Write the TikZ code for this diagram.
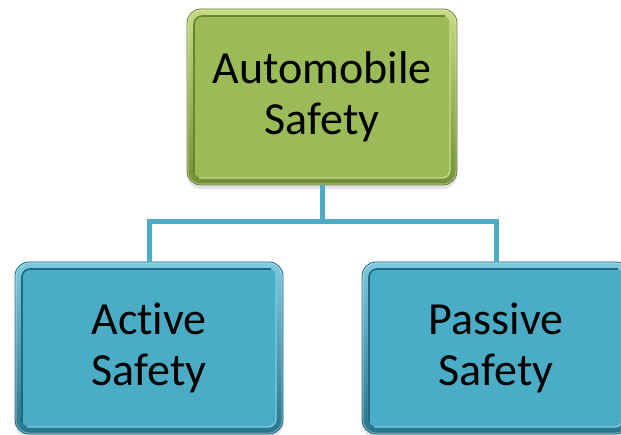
\documentclass[tikz,border=0pt]{standalone}
\usepackage{fontspec}
\setmainfont[Ligatures=NoCommon]{Carlito}
\usetikzlibrary{shadows}
\definecolor{glight}{RGB}{198,218,130}
\definecolor{gmain}{RGB}{155,187,89}
\definecolor{gdark}{RGB}{104,132,48}
\definecolor{blight}{RGB}{125,202,224}
\definecolor{bmain}{RGB}{75,172,198}
\definecolor{bdark}{RGB}{30,104,128}
\tikzset{
  bevelbox/.style n args={3}{
    rounded corners=14pt, minimum width=268pt, minimum height=172pt,
    top color=#1, bottom color=#3!80!#2, draw=#3, line width=0.8pt, inner sep=0pt,
    drop shadow={shadow xshift=0pt, shadow yshift=-4pt, opacity=.22},
    path picture={
      % raised face of the bevel
      \fill[rounded corners=8pt, #2]
        ([shift={(7pt,-7pt)}]path picture bounding box.north west) rectangle
        ([shift={(-7pt,7pt)}]path picture bounding box.south east);
      % inner shadow along the upper and left edges
      \draw[#3, line width=1.6pt, rounded corners=8pt]
        ([shift={(7pt,12pt)}]path picture bounding box.south west) --
        ([shift={(7pt,-7pt)}]path picture bounding box.north west) --
        ([shift={(-12pt,-7pt)}]path picture bounding box.north east);
      % inner highlight along the lower and right edges
      \draw[#1, line width=1.4pt, rounded corners=8pt]
        ([shift={(12pt,7pt)}]path picture bounding box.south west) --
        ([shift={(-7pt,7pt)}]path picture bounding box.south east) --
        ([shift={(-7pt,-12pt)}]path picture bounding box.north east);
      % outer rim highlight
      \draw[white, opacity=.35, line width=3pt, rounded corners=14pt]
        (path picture bounding box.south west) rectangle
        (path picture bounding box.north east);
    },
    font=\fontsize{46}{51}\selectfont, align=center, text=black
  },
  greenbox/.style={bevelbox={glight}{gmain}{gdark}},
  bluebox/.style={bevelbox={blight}{bmain}{bdark}},
  link/.style={draw=bmain, line width=5pt}
}
\begin{document}
\begin{tikzpicture}[x=1pt,y=-1pt]
  \useasboundingbox[fill=white] (0,0) rectangle (621,435);
  % tree skeleton
  \coordinate (bus) at (322,222);
  \node[greenbox, minimum width=270pt, minimum height=176pt] (root) at (322,97) {Automobile\\Safety};
  \node[bluebox] (active) at (149,348) {Active\\Safety};
  \node[bluebox] (passive) at (496,348) {Passive\\Safety};
  % connectors
  \draw[link] (root.south) -- (root.south |- bus);
  \draw[link] (active.north) |- (root.south |- bus) -| (passive.north);
\end{tikzpicture}
\end{document}
